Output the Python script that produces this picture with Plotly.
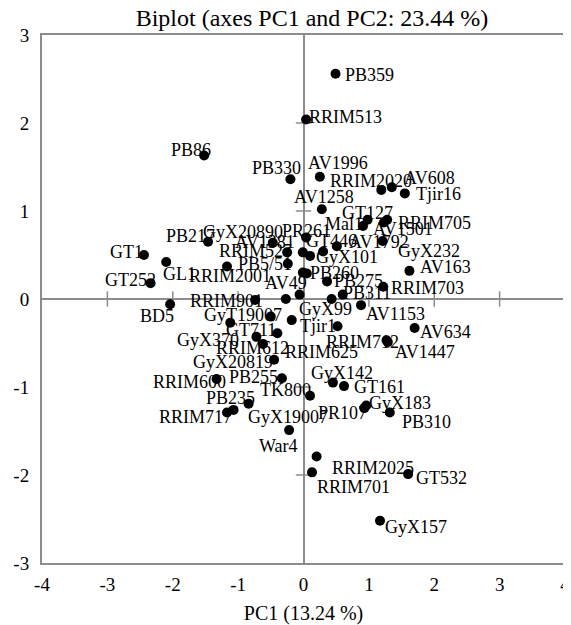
import plotly.graph_objects as go

# Observation labels and PC1 / PC2 coordinates
names = ["PB359", "RRIM513", "PB86", "PB330", "AV1996", "RRIM2020", "AV608", "Tjir16",
         "AV1258", "GT127", "Mal1", "RRIM705", "AV1501", "PB217", "GyX20890", "PR261",
         "AV1381", "RRIM527", "GT446", "GyX101", "AV1792", "GyX232", "GT1", "GL1",
         "GT252", "PB5/51", "RRIM2001", "PB260", "", "AV163", "AV49", "",
         "PB275", "RRIM703", "PB311", "GyX99", "RRIM901", "BD5", "AV1153", "GyT19007",
         "Tjir1", "AV634", "GT711", "GyX370", "RRIM712", "AV1447", "RRIM612", "RRIM625",
         "GyX20819", "", "PB255", "RRIM600", "TK800", "GyX142", "GT161", "PB235",
         "RRIM717", "GyX19007", "PR107", "GyX183", "PB310", "War4", "RRIM2025", "RRIM701",
         "GT532", "GyX157"]
pc1 = [0.49, 0.04, -1.52, -0.20, 0.25, 1.19, 1.35, 1.55,
       0.28, 0.98, 0.91, 1.28, 1.23, -1.46, -0.47, 0.04,
       -0.25, -0.01, 0.30, 0.10, 0.51, 1.21, -2.44, -2.10,
       -2.34, -0.24, -1.17, -0.01, 0.05, 1.62, -0.06, -0.27,
       0.36, 1.22, 0.60, 0.43, -0.74, -2.04, 0.88, -0.18,
       0.52, 1.70, -0.50, -1.12, 1.27, 1.29, -0.72, -0.40,
       -0.45, -0.62, -0.33, -1.33, 0.10, 0.45, 0.62, -0.84,
       -1.17, -1.07, 0.93, 0.96, 1.32, -0.22, 0.20, 0.13,
       1.60, 1.17]
pc2 = [2.56, 2.04, 1.63, 1.36, 1.39, 1.24, 1.27, 1.20,
       1.02, 0.90, 0.83, 0.90, 0.87, 0.65, 0.64, 0.70,
       0.53, 0.53, 0.54, 0.49, 0.60, 0.66, 0.50, 0.42,
       0.18, 0.40, 0.37, 0.30, 0.29, 0.32, 0.05, 0.00,
       0.20, 0.14, 0.05, 0.00, -0.01, -0.06, -0.07, -0.24,
       -0.31, -0.33, -0.20, -0.27, -0.47, -0.49, -0.43, -0.39,
       -0.69, -0.51, -0.90, -0.91, -1.10, -0.95, -0.99, -1.19,
       -1.29, -1.26, -1.24, -1.21, -1.29, -1.49, -1.79, -1.97,
       -1.99, -2.52]

# label offsets from each point, in pixels (right, down)
label_dx = [34, 39, -13, -14, 18, -10, 38, 34,
            2, 0, -19, 47, 19, -18, -30, 0,
            -22, -47, 8, 37, 42, 46, -17, 13,
            -20, -23, 3, 32, 0, 36, -14, 0,
            31, 44, 24, -6, -29, -13, 34, -49,
            -20, 31, -20, -22, -24, 37, -4, 44,
            -41, 0, -28, -27, -25, 9, 35, -18,
            -32, 54, -22, 34, 37, -11, 56, 41,
            33, 36]
label_dy = [1, -2, -6, -11, -14, -9, -9, 1,
            -12, -7, -2, 3, 7, -6, -11, -6,
            -10, -1, -10, 1, -4, 10, -3, 12,
            -3, 0, 10, 0, 0, -4, -12, 0,
            0, 1, -2, 10, 1, 12, 9, -5,
            0, 4, 13, 17, 2, 10, 11, 19,
            2, 0, -1, 3, -6, -10, 1, -6,
            4, 7, 5, -2, 9, 16, 11, 15,
            4, 6]

x_ticks = [-4, -3, -2, -1, 0, 1, 2, 3, 4]
y_ticks = [-3, -2, -1, 0, 1, 2, 3]

title_text = "Biplot (axes PC1 and PC2: 23.44 %)"
x_title = "PC1 (13.24 %)"

FONT = "Liberation Serif, Times New Roman, serif"
AXC = "#8c8c8c"

# the page body adds an 8 px offset, so the figure is 8 px smaller than the window
W, H = 563, 617

fig = go.Figure()

# small cross ticks along the zero axes
xt = [t for t in x_ticks if t not in (0, -4, 4)]
yt = [t for t in y_ticks if t not in (0, -3, 3)]
fig.add_trace(go.Scatter(x=xt, y=[0] * len(xt), mode="markers", hoverinfo="skip",
                         marker=dict(symbol="line-ns", size=11, line=dict(color=AXC, width=1.5))))
fig.add_trace(go.Scatter(x=[0] * len(yt), y=yt, mode="markers", hoverinfo="skip",
                         marker=dict(symbol="line-ew", size=11, line=dict(color=AXC, width=1.5))))

fig.add_trace(go.Scatter(
    x=pc1, y=pc2, text=names, mode="markers",
    marker=dict(color="black", size=10),
    cliponaxis=False,
))

annotations = []
for n, x, y, dx, dy in zip(names, pc1, pc2, label_dx, label_dy):
    if not n:
        continue
    annotations.append(dict(x=x, y=y, xref="x", yref="y", text=n, showarrow=False,
                            xshift=dx, yshift=-dy, xanchor="center", yanchor="middle",
                            font=dict(family=FONT, size=18, color="black")))

axis_common = dict(showgrid=False, zeroline=True, zerolinecolor=AXC, zerolinewidth=2,
                   showline=True, linecolor=AXC, linewidth=2, mirror=True,
                   automargin=False,
                   ticks="", tickfont=dict(family=FONT, size=19, color="black"))

fig.update_layout(
    width=W, height=H,
    margin=dict(l=34, r=6, t=27, b=62),
    paper_bgcolor="white", plot_bgcolor="white",
    showlegend=False,
    annotations=annotations,
    title=dict(text=title_text, x=(312 - 8) / W, xanchor="center",
               y=1 - 10 / H, yanchor="middle",
               xref="container", yref="container",
               font=dict(family=FONT, size=24, color="black")),
    xaxis=dict(range=[-4, 4], tickvals=x_ticks, ticktext=[str(v) for v in x_ticks],
               ticklabelstandoff=3,
               title=dict(text=x_title, font=dict(family=FONT, size=20, color="black")),
               **axis_common),
    yaxis=dict(range=[-3, 3], tickvals=y_ticks, ticktext=[str(v) for v in y_ticks],
               ticklabelstandoff=7, **axis_common),
)

fig.write_html("out.html")
